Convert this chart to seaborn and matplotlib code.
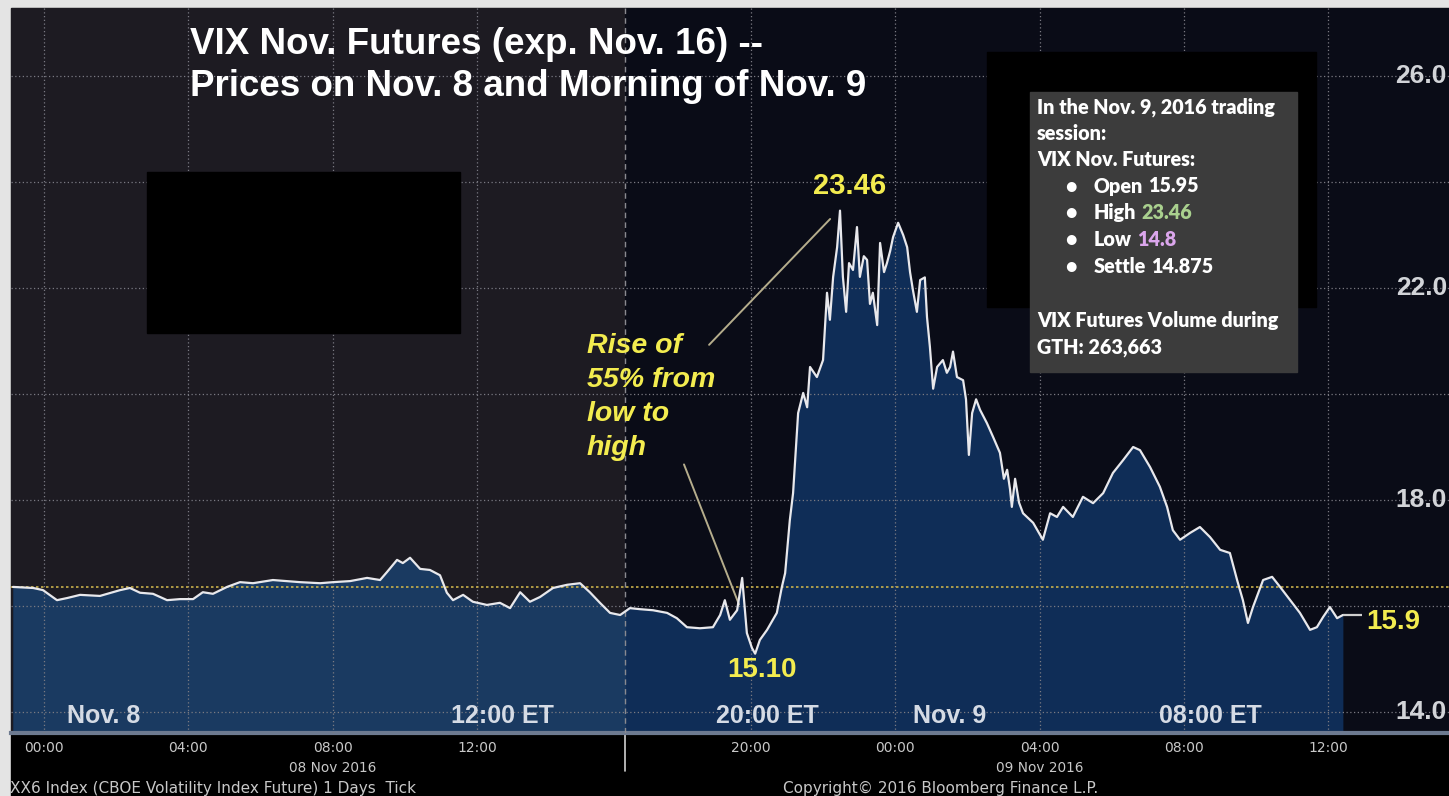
import matplotlib
matplotlib.use('Agg')
import matplotlib.pyplot as plt
import matplotlib.patches as mpatches
import seaborn as sns
import pandas as pd

W, H = 1449, 796

# Horas desde el 08 Nov 2016 00:00 ET y precio
nov8_hours = [-0.86, -0.30, -0.03, 0.36, 0.64, 1.00, 1.55, 2.11, 2.38, 2.66,
              3.02, 3.41, 3.77, 4.13, 4.40, 4.68, 5.07, 5.43, 5.79, 6.34,
              6.73, 7.09, 7.65, 8.01, 8.48, 8.95, 9.31, 9.50, 9.78, 9.94,
              10.14, 10.42, 10.69, 10.97, 11.16, 11.33, 11.61, 11.88, 12.27, 12.63,
              12.91, 13.19, 13.46, 13.74, 14.10, 14.49, 14.85, 15.12, 15.40, 15.68,
              15.96]
nov8_price = [16.36, 16.34, 16.30, 16.11, 16.15, 16.21, 16.19, 16.30, 16.34, 16.25,
              16.23, 16.11, 16.13, 16.13, 16.26, 16.23, 16.36, 16.45, 16.43, 16.49,
              16.47, 16.45, 16.43, 16.45, 16.47, 16.53, 16.49, 16.64, 16.87, 16.81,
              16.91, 16.70, 16.68, 16.58, 16.25, 16.11, 16.21, 16.08, 16.02, 16.06,
              15.96, 16.26, 16.08, 16.17, 16.34, 16.40, 16.43, 16.26, 16.06, 15.87,
              15.83]

# sesion extendida (GTH), misma escala de horas
gth_hours = [16.65, 16.93, 17.29, 17.68, 17.95, 18.23, 18.59, 18.95, 19.15, 19.28,
             19.42, 19.62, 19.76, 19.89, 20.03, 20.12, 20.25, 20.45, 20.72, 20.86,
             20.95, 21.08, 21.17, 21.31, 21.45, 21.56, 21.64, 21.83, 22.00, 22.11,
             22.19, 22.28, 22.39, 22.47, 22.55, 22.64, 22.72, 22.83, 22.94, 23.02,
             23.13, 23.22, 23.30, 23.38, 23.50, 23.58, 23.69, 23.77, 23.86, 23.94,
             24.08, 24.22, 24.33, 24.41, 24.49, 24.60, 24.69, 24.82, 24.88, 24.96,
             25.05, 25.16, 25.32, 25.43, 25.52, 25.60, 25.71, 25.88, 25.96, 26.04,
             26.13, 26.24, 26.35, 26.54, 26.71, 26.90, 27.01, 27.10, 27.18, 27.23,
             27.32, 27.43, 27.54, 27.82, 28.09, 28.29, 28.48, 28.65, 28.92, 29.20,
             29.48, 29.76, 30.03, 30.31, 30.59, 30.78, 31.06, 31.33, 31.53, 31.69,
             31.89, 32.17, 32.44, 32.72, 33.00, 33.27, 33.47, 33.63, 33.77, 33.91,
             34.19, 34.44, 34.66, 34.94, 35.21, 35.49, 35.68, 35.85, 36.04, 36.24,
             36.40]
gth_price = [15.96, 15.94, 15.92, 15.87, 15.77, 15.60, 15.58, 15.60, 15.83, 16.11,
             15.74, 15.92, 16.53, 15.49, 15.21, 15.10, 15.36, 15.55, 15.87, 16.36,
             16.62, 17.62, 18.13, 19.64, 20.02, 19.75, 20.51, 20.32, 20.64, 21.91,
             21.40, 22.21, 22.77, 23.46, 22.21, 21.55, 22.47, 22.34, 23.15, 22.21,
             22.60, 22.53, 21.70, 21.91, 21.30, 22.85, 22.30, 22.47, 22.70, 22.96,
             23.23, 23.00, 22.77, 22.30, 21.96, 21.55, 22.15, 22.20, 21.45, 20.89,
             20.10, 20.51, 20.64, 20.40, 20.51, 20.80, 20.32, 20.26, 19.90, 18.85,
             19.64, 19.90, 19.70, 19.45, 19.19, 18.89, 18.40, 18.57, 18.20, 17.87,
             18.40, 17.95, 17.75, 17.57, 17.25, 17.75, 17.68, 17.87, 17.68, 18.06,
             17.94, 18.13, 18.51, 18.75, 19.00, 18.94, 18.62, 18.25, 17.87, 17.43,
             17.25, 17.38, 17.49, 17.30, 17.06, 17.00, 16.49, 16.11, 15.68, 15.98,
             16.49, 16.55, 16.36, 16.11, 15.87, 15.55, 15.60, 15.79, 15.98, 15.77,
             15.83]

prev_close = 16.35
last_label = '15.9'
high_point = (22.47, 23.46)
low_point = (20.12, 15.10)

tick_hours = [0, 2, 4, 6, 8, 10, 12, 14, 16, 18, 20, 22, 24, 26, 28, 30, 32, 34, 36, 38]
label_hours = [0, 4, 8, 12, 20, 24, 28, 32, 36]
label_text = ['00:00', '04:00', '08:00', '12:00', '20:00', '00:00', '04:00', '08:00', '12:00']
date_hours = [8, 28]
date_text = ['08 Nov 2016', '09 Nov 2016']
y_labels = [14, 18, 22, 26]
y_grid = [16, 20, 24]

period_labels = [('Nov. 8', 104), ('12:00 ET', 502), ('20:00 ET', 767),
                 ('Nov. 9', 950), ('08:00 ET', 1210)]

box_lines = ['In the Nov. 9, 2016 trading', 'session:', 'VIX Nov. Futures:']
box_bullets = [('Open', '15.95', 'white'), ('High', '23.46', '#a9d08e'),
               ('Low', '14.8', '#dba6ec'), ('Settle', '14.875', 'white')]
box_volume = ['VIX Futures Volume during', 'GTH: 263,663']

# el grafico de Bloomberg quita la pausa entre sesiones
SESSION_BREAK = 16.1
GAP = 0.42


def to_chart(h):
    return h if h < 16.4 else h - GAP


df = pd.DataFrame({'hours': nov8_hours + gth_hours, 'price': nov8_price + gth_price})
df['chart_x'] = df['hours'].apply(to_chart)

sns.set_style('dark')
plt.rcParams['font.family'] = ['Liberation Sans', 'DejaVu Sans']

fig = plt.figure(figsize=(W / 100, H / 100), dpi=100, facecolor='#e4e4e4')
fig.add_artist(mpatches.Rectangle((11 / W, 0), 1, (H - 8) / H, transform=fig.transFigure,
                                  color='black', zorder=-5))

ax = fig.add_axes([11 / W, (H - 733) / H, (W - 11) / W, (733 - 8) / H])
xmin, xmax = (11 - 44) / 36.1, (W - 44) / 36.1
ymin, ymax = 14 - 21 / 53, 14 + 704 / 53
ax.set_xlim(xmin, xmax)
ax.set_ylim(ymin, ymax)
ax.set_facecolor('#0a0c17')
ax.axvspan(xmin, SESSION_BREAK, color='#1d1b22', zorder=0, lw=0)

# area bajo la curva, un poco mas clara antes del corte
ax.fill_between(df['chart_x'], df['price'], ymin, color='#0f2d57', zorder=1, lw=0)
left_fill = ax.fill_between(df['chart_x'], df['price'], ymin, color='#1a3a61', zorder=1.1, lw=0)
clip = mpatches.Rectangle((xmin, ymin), SESSION_BREAK - xmin, ymax - ymin, transform=ax.transData)
left_fill.set_clip_path(clip)

ax.axhline(prev_close, color='#c9b04a', lw=1.2, ls=(0, (1.5, 1.5)), zorder=2.6)
ax.axvline(SESSION_BREAK, color='#8a8a90', lw=1.0, ls=(0, (4, 3)), zorder=2.6)
ax.axvline(SESSION_BREAK, ymin=-0.052, ymax=0, color='#d0d0d0', lw=1.2, clip_on=False)

sns.lineplot(data=df, x='chart_x', y='price', ax=ax, color='#e8e8ec', linewidth=1.6,
             estimator=None, sort=False, legend=False, zorder=4)

last_x = df['chart_x'].iloc[-1]
last_y = df['price'].iloc[-1]
ax.hlines(last_y, last_x, (1362 - 44) / 36.1, color='#cfcfcf', lw=1.6, zorder=4)
ax.annotate(last_label, xy=((1366 - 44) / 36.1, last_y), xytext=(0, -5), textcoords='offset points',
            ha='left', va='center', color='#f3ec4f', fontsize=20, fontweight='bold')

# ejes y rejilla
ax.set_xticks([to_chart(h) for h in label_hours])
ax.set_xticklabels(label_text)
ax.set_xticks([to_chart(h) for h in tick_hours if h not in label_hours], minor=True)
ax.set_yticks(y_labels)
ax.set_yticks(y_grid, minor=True)
ax.set_axisbelow(False)
ax.grid(which='both', axis='y', color='#7a7a82', lw=0.9, ls=(0, (1, 2)))
ax.grid(which='major', axis='x', color='#7a7a82', lw=0.9, ls=(0, (1, 2)))
ax.tick_params(axis='x', which='both', direction='out', length=5, width=1, color='#bbbbbb',
               labelsize=10, labelcolor='#c8c8c8', pad=1)
ax.tick_params(axis='y', which='both', length=0, labelleft=False, labelright=False)
for lab in ax.get_xticklabels():
    lab.set_family('DejaVu Sans')
for side in ['top', 'left', 'right']:
    ax.spines[side].set_visible(False)
ax.spines['bottom'].set_color('#6d7a90')
ax.spines['bottom'].set_linewidth(3)
ax.set_xlabel('')
ax.set_ylabel('')

# etiquetas de precio dentro del grafico, al borde derecho
for v in y_labels:
    ax.text((1447 - 11) / (W - 11), v, f'{v:.1f}', transform=ax.get_yaxis_transform(),
            ha='right', va='center', fontsize=19, fontweight='bold', color='#d2d4d8')

for h, txt in zip(date_hours, date_text):
    ax.text(to_chart(h), -0.048, txt, transform=ax.get_xaxis_transform(), ha='center', va='center',
            fontsize=9.8, color='#c8c8c8', family='DejaVu Sans')

# anotaciones de maximo y minimo
yellow = '#f3ec4f'
hx, hy = to_chart(high_point[0]), high_point[1]
lx, ly = to_chart(low_point[0]), low_point[1]
ax.annotate(f'{high_point[1]:.2f}', xy=(hx, hy), xytext=(7, 18), textcoords='offset points',
            ha='center', va='center', color=yellow, fontsize=21, fontweight='bold')
ax.annotate(f'{low_point[1]:.2f}', xy=(lx, ly), xytext=(5, -12), textcoords='offset points',
            ha='center', va='center', color=yellow, fontsize=20, fontweight='bold')
ax.text(15.04, 19.95, 'Rise of\n55% from\nlow to\nhigh', ha='left', va='center', color=yellow,
        fontsize=20.5, fontweight='bold', fontstyle='italic', linespacing=1.4)
ax.annotate('', xy=(to_chart(22.25), 23.34), xytext=(to_chart(18.79), 20.89),
            arrowprops=dict(arrowstyle='-', color='#b5ad8c', lw=1.4))
ax.annotate('', xy=(to_chart(19.70), 15.98), xytext=(to_chart(18.12), 18.72),
            arrowprops=dict(arrowstyle='-', color='#b5ad8c', lw=1.4))

# capa superior en pixeles para titulo, recuadros y pie
ov = fig.add_axes([0, 0, 1, 1], zorder=5)
ov.set_xlim(0, W)
ov.set_ylim(H, 0)
ov.axis('off')
ov.patch.set_alpha(0)

ov.text(190, 45, 'VIX Nov. Futures (exp. Nov. 16) --', ha='left', va='center', color='white',
        fontsize=26.5, fontweight='bold')
ov.text(190, 87, 'Prices on Nov. 8 and Morning of Nov. 9', ha='left', va='center', color='white',
        fontsize=26.5, fontweight='bold')

for txt, cx in period_labels:
    ov.text(cx, 716, txt, ha='center', va='center', color='#d5dbe5', fontsize=18, fontweight='bold')

ov.add_patch(mpatches.Rectangle((147, 172), 313, 161, color='black'))
ov.add_patch(mpatches.Rectangle((987, 52), 329, 255, color='black'))
ov.add_patch(mpatches.Rectangle((1030, 92), 267, 280, color='#3c3c3c'))

box_font = dict(fontsize=14.2, fontweight='heavy', family=['Lato', 'DejaVu Sans'], va='center')
for i, txt in enumerate(box_lines):
    ov.text(1037, 107 + 26.5 * i, txt, color='white', ha='left', **box_font)
for i, (name, val, col) in enumerate(box_bullets):
    y = 186 + 26.7 * i
    ov.text(1071, y, '\u2022', color='white', ha='center', **box_font)
    t = ov.text(1094, y, name, color='white', ha='left', **box_font)
    ov.annotate(val, xy=(1, 0.5), xycoords=t, xytext=(3.5, 0), textcoords='offset points',
                color=col, ha='left', **box_font)
for i, txt in enumerate(box_volume):
    ov.text(1037, 321 + 26.5 * i, txt, color='white', ha='left', **box_font)

foot = dict(fontsize=11, color='#c8c8c8', family='DejaVu Sans', va='center', ha='left')
ov.text(10, 788, 'XX6 Index (CBOE Volatility Index Future) 1 Days  Tick', **foot)
ov.text(783, 788, 'Copyright\u00a9 2016 Bloomberg Finance L.P.', **foot)

fig.savefig('out.png', dpi=100, facecolor=fig.get_facecolor())
plt.close(fig)
